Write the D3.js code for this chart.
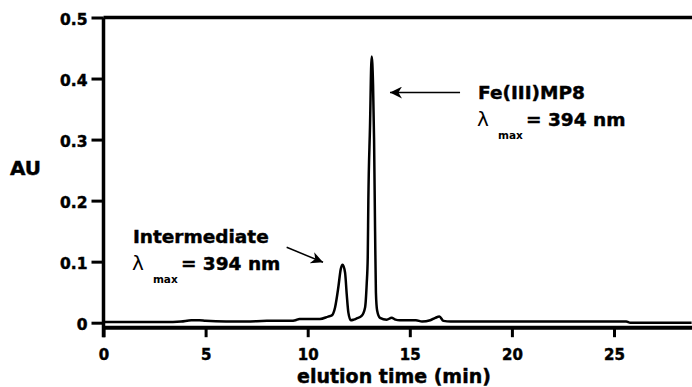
<!DOCTYPE html>
<html>
<head>
<meta charset="utf-8">
<script src="https://cdn.jsdelivr.net/npm/d3@7"></script>
<style>
  body { margin: 0; background: #fff; }
  svg { display: block; font-family: "DejaVu Sans", sans-serif; font-weight: bold; }
  .heavy { stroke: #000; stroke-width: 0.45px; }
</style>
</head>
<body>
<div class="chart"></div>
<script>
// chromatogram trace (time in min, absorbance in AU)
var times = [0, 1, 2, 3, 3.8, 4.3, 4.7, 5.0, 6, 7, 8, 9.2, 9.4, 9.6, 10.2, 10.6, 11.0, 11.18, 11.34, 11.5,
             11.62, 11.71, 11.83, 11.91, 11.99, 12.11, 12.25, 12.4, 12.64, 12.81, 12.89, 12.94, 12.97, 13.05,
             13.13, 13.2, 13.25, 13.3, 13.34, 13.4, 13.54, 13.87, 14.11, 14.3, 14.5, 15.0, 15.3, 15.6, 16.0,
             16.25, 16.45, 16.65, 17.0, 20, 25.6, 25.8, 28.8];
var absorb = [0.001, 0.001, 0.001, 0.001, 0.002, 0.004, 0.004, 0.003, 0.002, 0.002, 0.003, 0.003, 0.004, 0.006, 0.006, 0.006, 0.01, 0.012, 0.025, 0.058,
              0.088, 0.095, 0.082, 0.047, 0.017, 0.004, 0.005, 0.007, 0.011, 0.025, 0.064, 0.107, 0.2, 0.32,
              0.436, 0.39, 0.3, 0.15, 0.05, 0.02, 0.008, 0.005, 0.008, 0.005, 0.004, 0.004, 0.004, 0.002, 0.004,
              0.008, 0.01, 0.003, 0.002, 0.002, 0.002, 0.0, 0.0];

var xTicks = [0, 5, 10, 15, 20, 25];
var yTicks = [0, 0.1, 0.2, 0.3, 0.4, 0.5];

// annotation anchors, in data units
var peakLabels = [
  {name: "Intermediate", tx: 1.44, ty: 0.131, from: [8.97, 0.1235], to: [10.75, 0.099]},
  {name: "Fe(III)MP8", tx: 18.34, ty: 0.367, from: [17.46, 0.377], to: [14.03, 0.377]}
];

var width = 692, height = 387;

var svg = d3.select(".chart").append("svg")
    .attr("width", width)
    .attr("height", height);

var x = d3.scaleLinear().domain([0, 28.8]).range([103.5, 691.6]);
var y = d3.scaleLinear().domain([0, 0.5]).range([322.7, 17.5]);
var xAxisY = y(0) + 4.5;

svg.append("defs").append("marker")
    .attr("id", "head")
    .attr("viewBox", "0 0 10 10")
    .attr("refX", 10).attr("refY", 5)
    .attr("markerUnits", "userSpaceOnUse")
    .attr("markerWidth", 15).attr("markerHeight", 12)
    .attr("orient", "auto")
  .append("path")
    .attr("d", "M0,0 L10,5 L0,10 L3,5 Z")
    .attr("fill", "#000");

// top frame line
svg.append("line")
    .attr("x1", x(0)).attr("x2", width)
    .attr("y1", y(0.5)).attr("y2", y(0.5))
    .attr("stroke", "#000").attr("stroke-width", 3.5);

// y axis
var yAxis = d3.axisLeft(y)
    .tickValues(yTicks)
    .tickSize(12).tickPadding(4)
    .tickFormat(function(d){ return d === 0 ? "0" : d3.format(".1f")(d); });

var gy = svg.append("g")
    .attr("transform", "translate(" + x(0) + ",0)")
    .call(yAxis);
gy.select(".domain").remove();
gy.selectAll(".tick line").attr("stroke-width", 3);
gy.selectAll(".tick text")
    .attr("class", "heavy")
    .attr("font-family", "DejaVu Sans").attr("font-weight", "bold")
    .attr("font-size", 15.5).attr("dy", "0.42em").attr("fill", "#000");

// x axis
var xAxis = d3.axisBottom(x)
    .tickValues(xTicks)
    .tickSize(10).tickSizeOuter(0).tickPadding(12);

var gx = svg.append("g")
    .attr("transform", "translate(0," + xAxisY + ")")
    .call(xAxis);
gx.select(".domain").attr("stroke-width", 4);
gx.selectAll(".tick line").attr("stroke-width", 3);
gx.selectAll(".tick text")
    .attr("class", "heavy")
    .attr("font-family", "DejaVu Sans").attr("font-weight", "bold")
    .attr("font-size", 15).attr("fill", "#000");

// vertical axis line running from the top down past the x axis
svg.append("line")
    .attr("x1", x(0)).attr("x2", x(0))
    .attr("y1", y(0.5)).attr("y2", xAxisY + 10)
    .attr("stroke", "#000").attr("stroke-width", 3.5);

// trace
var pts = times.map(function(t, i){ return [t, absorb[i]]; });
var line = d3.line()
    .x(function(d){ return x(d[0]); })
    .y(function(d){ return y(d[1]); })
    .curve(d3.curveMonotoneX);

svg.append("path")
    .datum(pts)
    .attr("d", line)
    .attr("fill", "none")
    .attr("stroke", "#000")
    .attr("stroke-width", 2.5)
    .attr("stroke-linejoin", "round");

// axis titles
svg.append("text")
    .attr("class", "heavy")
    .attr("x", 10).attr("y", 175)
    .attr("font-size", 20)
    .text("AU");

svg.append("text")
    .attr("class", "heavy")
    .attr("x", 394).attr("y", 383)
    .attr("text-anchor", "middle")
    .attr("font-size", 19)
    .text("elution time (min)");

// peak annotations
peakLabels.forEach(function(p){
  var px = x(p.tx), py = y(p.ty);
  svg.append("text")
      .attr("class", "heavy")
      .attr("x", px).attr("y", py)
      .attr("font-size", 18.5)
      .text(p.name);
  svg.append("text")
      .attr("x", px - 1).attr("y", py + 27)
      .attr("font-size", 20).attr("font-weight", "normal")
      .text("\u03bb");
  svg.append("text")
      .attr("x", px + 20).attr("y", py + 40)
      .attr("font-size", 10.5)
      .text("max");
  svg.append("text")
      .attr("class", "heavy")
      .attr("x", px + 48).attr("y", py + 27)
      .attr("font-size", 18.5)
      .text("= 394 nm");
  svg.append("line")
      .attr("x1", x(p.from[0])).attr("y1", y(p.from[1]))
      .attr("x2", x(p.to[0])).attr("y2", y(p.to[1]))
      .attr("stroke", "#000").attr("stroke-width", 1.5)
      .attr("marker-end", "url(#head)");
});
</script>
</body>
</html>
